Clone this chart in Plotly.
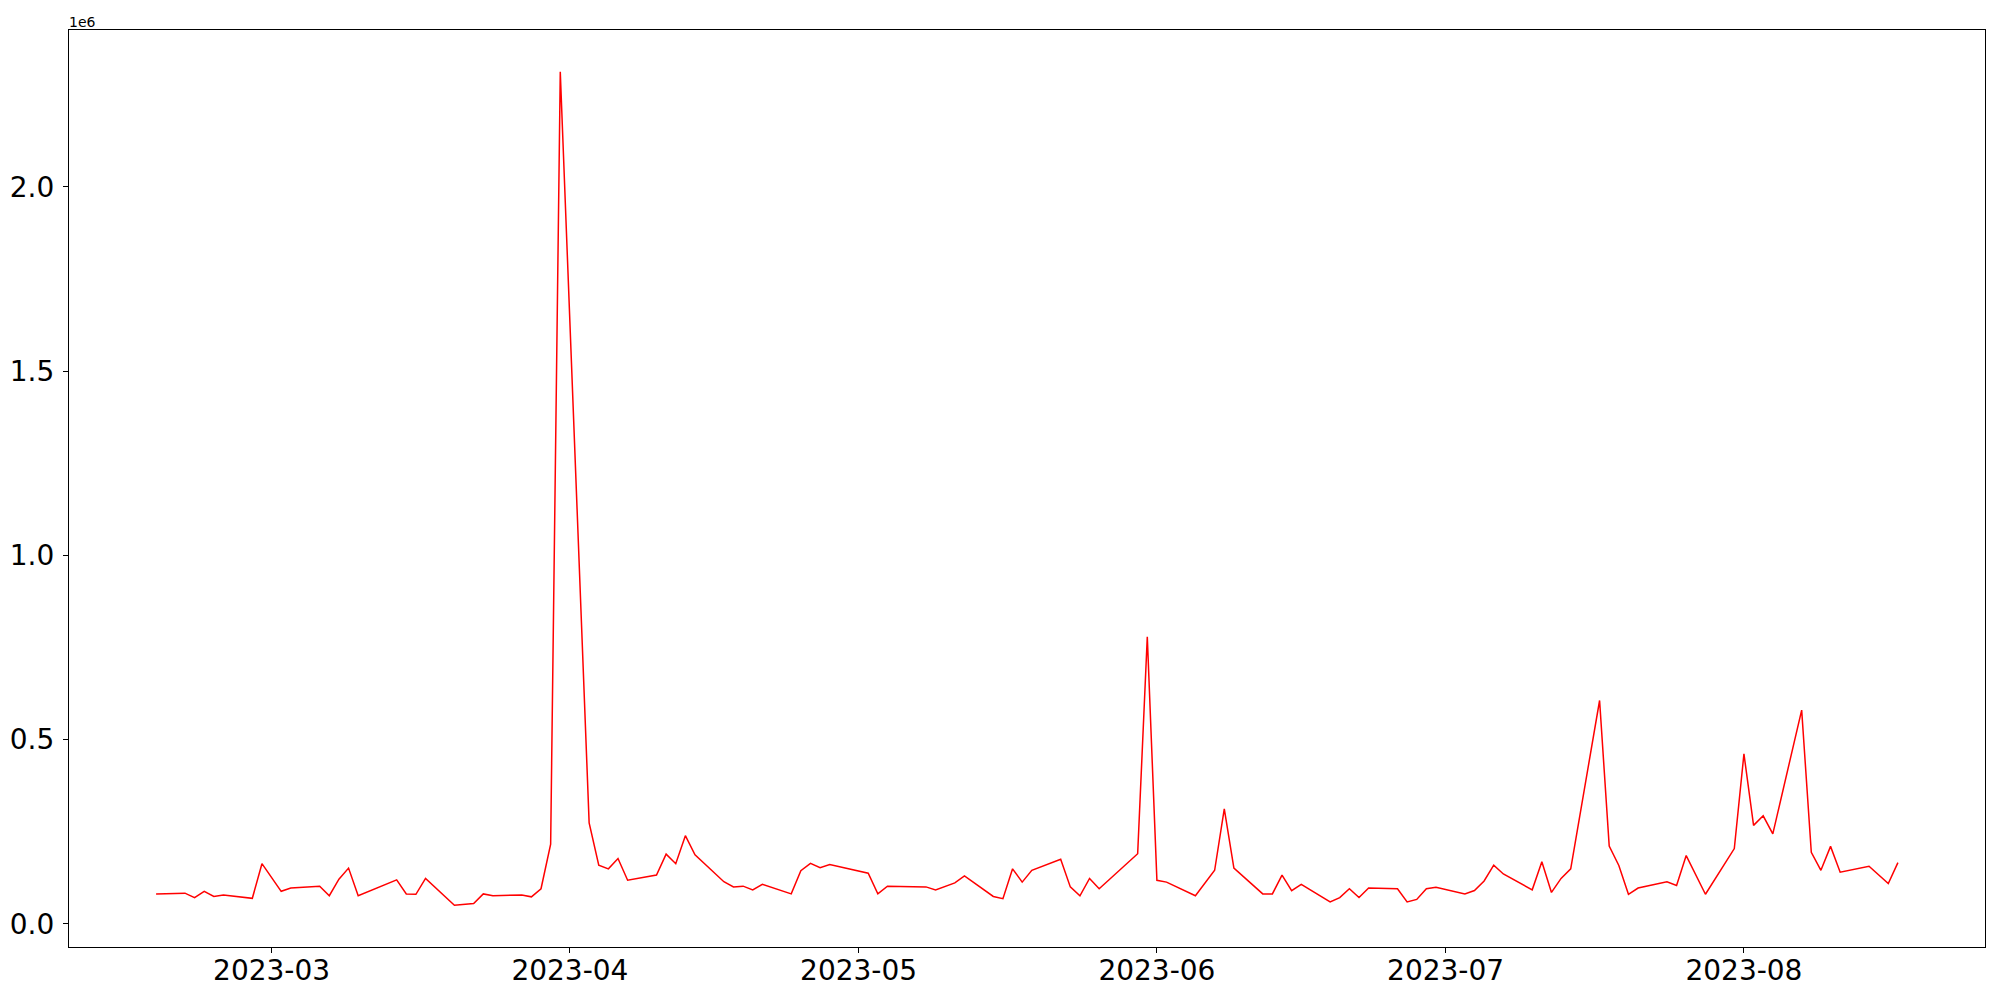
import pandas as pd
import plotly.graph_objects as go

# ── data ──────────────────────────────────────────
dates = [
    "2023-02-17", "2023-02-20", "2023-02-21", "2023-02-22", "2023-02-23", "2023-02-24",
    "2023-02-27", "2023-02-28", "2023-03-02", "2023-03-03", "2023-03-06", "2023-03-07",
    "2023-03-08", "2023-03-09", "2023-03-10", "2023-03-14", "2023-03-15", "2023-03-16",
    "2023-03-17", "2023-03-20", "2023-03-22", "2023-03-23", "2023-03-24", "2023-03-27",
    "2023-03-28", "2023-03-29", "2023-03-30", "2023-03-31", "2023-04-03", "2023-04-04",
    "2023-04-05", "2023-04-06", "2023-04-07", "2023-04-10", "2023-04-11", "2023-04-12",
    "2023-04-13", "2023-04-14", "2023-04-17", "2023-04-18", "2023-04-19", "2023-04-20",
    "2023-04-21", "2023-04-24", "2023-04-25", "2023-04-26", "2023-04-27", "2023-04-28",
    "2023-05-02", "2023-05-03", "2023-05-04", "2023-05-08", "2023-05-09", "2023-05-10",
    "2023-05-11", "2023-05-12", "2023-05-15", "2023-05-16", "2023-05-17", "2023-05-18",
    "2023-05-19", "2023-05-22", "2023-05-23", "2023-05-24", "2023-05-25", "2023-05-26",
    "2023-05-30", "2023-05-31", "2023-06-01", "2023-06-02", "2023-06-05", "2023-06-07",
    "2023-06-08", "2023-06-09", "2023-06-12", "2023-06-13", "2023-06-14", "2023-06-15",
    "2023-06-16", "2023-06-19", "2023-06-20", "2023-06-21", "2023-06-22", "2023-06-23",
    "2023-06-26", "2023-06-27", "2023-06-28", "2023-06-29", "2023-06-30", "2023-07-03",
    "2023-07-04", "2023-07-05", "2023-07-06", "2023-07-07", "2023-07-10", "2023-07-11",
    "2023-07-12", "2023-07-13", "2023-07-14", "2023-07-17", "2023-07-18", "2023-07-19",
    "2023-07-20", "2023-07-21", "2023-07-24", "2023-07-25", "2023-07-26", "2023-07-28",
    "2023-07-31", "2023-08-01", "2023-08-02", "2023-08-03", "2023-08-04", "2023-08-07",
    "2023-08-08", "2023-08-09", "2023-08-10", "2023-08-11", "2023-08-14", "2023-08-16",
    "2023-08-17",
]
volume = [
    81000, 83000, 71000, 88000, 74000, 78000,
    69000, 163000, 88000, 97000, 102000, 76000,
    121000, 151000, 76000, 119000, 81000, 80000,
    123000, 50000, 55000, 81000, 76000, 78000,
    73000, 95000, 216000, 2313000, 274000, 159000,
    149000, 177000, 118000, 132000, 189000, 163000,
    239000, 187000, 114000, 100000, 102000, 92000,
    107000, 81000, 144000, 164000, 152000, 161000,
    137000, 81000, 102000, 100000, 92000, 102000,
    111000, 130000, 74000, 68000, 149000, 113000,
    145000, 175000, 100000, 76000, 123000, 95000,
    190000, 779000, 118000, 113000, 76000, 145000,
    312000, 151000, 81000, 81000, 132000, 90000,
    107000, 59000, 71000, 95000, 71000, 97000,
    95000, 59000, 66000, 95000, 99000, 81000,
    90000, 116000, 159000, 135000, 92000, 168000,
    85000, 123000, 149000, 606000, 211000, 158000,
    80000, 97000, 114000, 104000, 185000, 80000,
    204000, 461000, 267000, 293000, 244000, 580000,
    194000, 145000, 210000, 140000, 156000, 109000,
    166000,
]

x_ticks = ["2023-03-01", "2023-04-01", "2023-05-01", "2023-06-01", "2023-07-01", "2023-08-01"]
x_labels = ["2023-03", "2023-04", "2023-05", "2023-06", "2023-07", "2023-08"]
y_ticks = [0, 500000, 1000000, 1500000, 2000000]
y_labels = ["0.0", "0.5", "1.0", "1.5", "2.0"]

# ── axis ranges with 5% margins (matplotlib style) ──
d = pd.to_datetime(dates)
span = d.max() - d.min()
x_range = [d.min() - span * 0.05, d.max() + span * 0.05]
vspan = max(volume) - min(volume)
y_range = [min(volume) - vspan * 0.05, max(volume) + vspan * 0.05]

fig = go.Figure()
fig.add_trace(go.Scatter(x=d, y=volume, mode='lines',
                         line=dict(color='#ff0000', width=1.5),
                         showlegend=False))

axis_style = dict(showline=True, mirror=True, linecolor='black', linewidth=1.2,
                  ticks='outside', ticklen=5, tickwidth=1, tickcolor='black',
                  showgrid=False, zeroline=False, automargin=False,
                  tickfont=dict(family='DejaVu Sans', size=28, color='black'))

fig.update_xaxes(range=x_range, tickvals=x_ticks, ticktext=x_labels,
                 ticklabelstandoff=-7, **axis_style)
fig.update_yaxes(range=y_range, tickvals=y_ticks, ticktext=y_labels,
                 ticklabelstandoff=3, **axis_style)

fig.add_annotation(text='1e6', xref='paper', yref='paper', x=0, y=1,
                   xanchor='left', yanchor='bottom', showarrow=False,
                   xshift=-2, yshift=-2,
                   font=dict(family='DejaVu Sans', size=14, color='black'))

# page body has an 8px margin, so the figure is a bit smaller than the window
fig.update_layout(width=1984, height=984, autosize=False,
                  margin=dict(l=61, r=7, t=22, b=45),
                  plot_bgcolor='white', paper_bgcolor='white')

fig.write_html("out.html")
